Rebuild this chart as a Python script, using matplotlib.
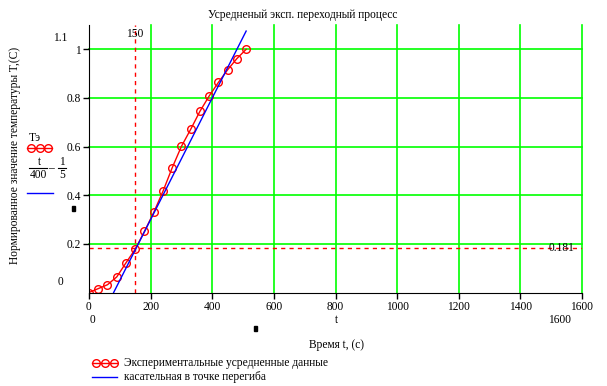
import matplotlib
matplotlib.use("Agg")
import matplotlib.pyplot as plt
from matplotlib.lines import Line2D

plt.rcParams.update({
    "font.family": ["Liberation Serif", "DejaVu Serif"],
    "font.size": 8.3,
})

# experimental averaged step response (normalised)
t_exp = [0, 30, 60, 90, 120, 150, 180, 210, 240, 270, 300, 330, 360, 390, 420, 450, 480, 510]
T_exp = [0.0, 0.016, 0.032, 0.064, 0.122, 0.178, 0.251, 0.329, 0.416, 0.513, 0.601, 0.671,
         0.745, 0.808, 0.864, 0.916, 0.962, 1.0]

# tangent at the inflection point: t/400 - 1/5
t_tan = [80, 510]
T_tan = [t / 400 - 1 / 5 for t in t_tan]

t_mark = 150
T_mark = 0.181

xticks = [0, 200, 400, 600, 800, 1000, 1200, 1400, 1600]
yticks = [0.2, 0.4, 0.6, 0.8, 1.0]
ytick_labels = ["0.2", "0.4", "0.6", "0.8", "1"]

RED = "#ff0000"
BLUE = "#0000ff"
GREEN = "#00ff00"
MS = 5.5

W, H = 607, 386
fig = plt.figure(figsize=(W / 100, H / 100), dpi=100)
ax = fig.add_axes([89 / W, 1 - 292.5 / H, (582 - 89) / W, (292.5 - 25) / H])

ax.set_xlim(0, 1600)
ax.set_ylim(0, 1.1)
ax.set_xticks(xticks)
ax.set_xticklabels([str(x) for x in xticks])
ax.set_yticks(yticks)
ax.set_yticklabels(ytick_labels)
ax.grid(True, color=GREEN, linewidth=1.2)
for gl in ax.get_xgridlines() + ax.get_ygridlines():
    gl.set_clip_on(False)
ax.get_xgridlines()[0].set_visible(False)  # keep the black y axis at t = 0
ax.set_axisbelow(True)
for s in ["top", "right"]:
    ax.spines[s].set_visible(False)
ax.tick_params(direction="out", length=4, width=1, colors="black", pad=2)

# markers
ax.axvline(t_mark, color=RED, linestyle=(0, (3, 3)), linewidth=1)
ax.axhline(T_mark, color=RED, linestyle=(0, (3, 3)), linewidth=1)
ax.text(t_mark, 1.065, "150", ha="center", va="center")
ax.text(1535, T_mark, "0.181", ha="center", va="center")

ax.plot(t_exp, T_exp, color=RED, linewidth=1, marker="o", ms=MS,
        mfc="none", mec=RED, mew=1)
ax.plot(t_tan, T_tan, color=BLUE, linewidth=1)

# title and axis texts (Mathcad style)
fig.text(303 / W, 1 - 15 / H, "Усредненый эксп. переходный процесс", ha="center", va="center")
fig.text(15 / W, 1 - 155 / H, "Нормированное значение температуры T,(C)",
         rotation=90, ha="center", va="center")
fig.text(60 / W, 1 - 38 / H, "1.1", ha="center", va="center")
fig.text(60 / W, 1 - 282 / H, "0", ha="center", va="center")
fig.text(93 / W, 1 - 320 / H, "0", ha="center", va="center")
fig.text(560 / W, 1 - 320 / H, "1600", ha="center", va="center")
fig.text(337 / W, 1 - 320 / H, "t", ha="center", va="center")
fig.text(337 / W, 1 - 345 / H, "Время t, (с)", ha="center", va="center")
fig.patches.append(plt.Rectangle((72 / W, 1 - 211 / H), 3 / W, 5 / H,
                                 transform=fig.transFigure, color="black"))
fig.patches.append(plt.Rectangle((254 / W, 1 - 331 / H), 3 / W, 5 / H,
                                 transform=fig.transFigure, color="black"))

# trace labels on the left
fig.text(29 / W, 1 - 138 / H, "Tэ", ha="left", va="center")
fig.add_artist(Line2D([27 / W, 52 / W], [1 - 148 / H] * 2, color=RED, linewidth=1,
                      transform=fig.transFigure))
fig.add_artist(Line2D([30.5 / W, 39.5 / W, 48.5 / W], [1 - 148 / H] * 3,
                      linestyle="none", marker="o", ms=MS, mfc="none", mec=RED,
                      transform=fig.transFigure))
fig.text(39 / W, 1 - 162 / H, "t", ha="center", va="center")
fig.add_artist(Line2D([29 / W, 47 / W], [1 - 168 / H] * 2, color="black", linewidth=0.8,
                      transform=fig.transFigure))
fig.text(38 / W, 1 - 175 / H, "400", ha="center", va="center")
fig.text(51 / W, 1 - 168 / H, "–", ha="center", va="center")
fig.text(62 / W, 1 - 162 / H, "1", ha="center", va="center")
fig.add_artist(Line2D([58 / W, 66 / W], [1 - 168 / H] * 2, color="black", linewidth=0.8,
                      transform=fig.transFigure))
fig.text(62 / W, 1 - 175 / H, "5", ha="center", va="center")
fig.add_artist(Line2D([27 / W, 53 / W], [1 - 193 / H] * 2, color=BLUE, linewidth=1,
                      transform=fig.transFigure))

# bottom legend
fig.add_artist(Line2D([92 / W, 117 / W], [1 - 363 / H] * 2, color=RED, linewidth=1,
                      transform=fig.transFigure))
fig.add_artist(Line2D([95.5 / W, 104.5 / W, 113.5 / W], [1 - 363 / H] * 3, linestyle="none",
                      marker="o", ms=MS, mfc="none", mec=RED, transform=fig.transFigure))
fig.text(124 / W, 1 - 363 / H, "Экспериментальные усредненные данные", ha="left", va="center")
fig.add_artist(Line2D([92 / W, 117 / W], [1 - 377 / H] * 2, color=BLUE, linewidth=1,
                      transform=fig.transFigure))
fig.text(124 / W, 1 - 377 / H, "касательная в точке перегиба", ha="left", va="center")

fig.savefig("out.png", dpi=100)
